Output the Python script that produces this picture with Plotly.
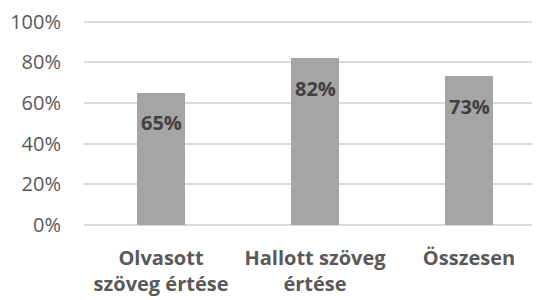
import plotly.graph_objects as go

categories = ["Olvasott<br>szöveg értése", "Hallott szöveg<br>értése", "Összesen"]
values = [0.65, 0.82, 0.73]
labels = ["65%", "82%", "73%"]
tick_vals = [0, 0.2, 0.4, 0.6, 0.8, 1.0]
tick_text = ["0%", "20%", "40%", "60%", "80%", "100%"]

FONT = "Open Sans"

fig = go.Figure()
fig.add_trace(go.Bar(
    x=list(range(len(categories))), y=values,
    marker=dict(color="#A5A5A5", line=dict(width=0)),
    width=0.312, hoverinfo="skip",
))
for i, (v, t) in enumerate(zip(values, labels)):
    fig.add_annotation(x=i, y=v, text="<b>" + t + "</b>", showarrow=False,
                       yshift=-30, font=dict(family=FONT, size=20, color="#404040"))

# page body has an 8px margin, so the figure is offset by 8px in the window
fig.update_layout(
    width=540, height=300,
    margin=dict(l=76, r=0, t=11.5, b=82.5, autoexpand=False),
    plot_bgcolor="white", paper_bgcolor="white",
    showlegend=False,
    bargap=0,
)
fig.update_xaxes(
    range=[-0.5, -0.5 + 464 / 154],
    tickvals=list(range(len(categories))),
    ticktext=["<b>" + c + "</b>" for c in categories],
    tickfont=dict(family=FONT, size=20, color="#595959"),
    showgrid=False, zeroline=False, showline=False, ticks="",
    ticklabelstandoff=19, automargin=False,
    ticklabeloverflow="allow",
)
fig.update_yaxes(
    range=[0, 1.0075],
    tickvals=tick_vals, ticktext=tick_text,
    tickfont=dict(family=FONT, size=20, color="#595959"),
    showgrid=True, gridcolor="#D9D9D9", gridwidth=1.5,
    zeroline=True, zerolinecolor="#D9D9D9", zerolinewidth=1.5,
    showline=False, ticks="",
    ticklabelstandoff=22, automargin=False,
    ticklabeloverflow="allow",
)

fig.write_html("out.html")
